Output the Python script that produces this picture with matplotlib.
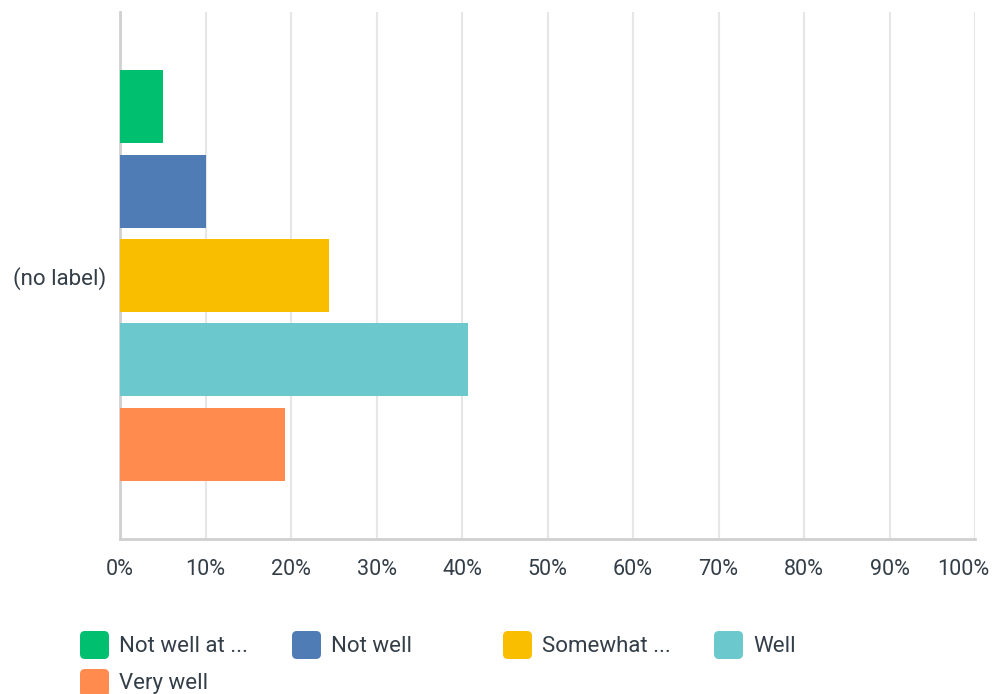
import matplotlib.pyplot as plt
import matplotlib.transforms as mtransforms
from matplotlib.patches import FancyBboxPatch

plt.rcParams['font.family'] = ['Roboto', 'DejaVu Sans']

categories = ["Not well at ...", "Not well", "Somewhat ...", "Well", "Very well"]
values = [5.0, 10.1, 24.4, 40.7, 19.3]   # percent of responses
colors = ["#00BF6F", "#507CB6", "#F9BE00", "#6BC8CD", "#FF8B4F"]
xticks = list(range(0, 101, 10))
row_label = "(no label)"

text_color = "#333E48"
W, H = 994, 694

fig = plt.figure(figsize=(W / 100, H / 100), dpi=100)
ax = fig.add_axes([120 / W, 1 - 539 / H, 855 / W, 527 / H])

# bars stacked top to bottom in one group
n = len(values)
pos = [1.125 + i for i in range(n)]
ax.barh(pos, values, height=0.866, color=colors, zorder=3)
ax.set_ylim(n + 1.25, 0)
ax.set_xlim(0, 100)

ax.set_yticks([(n + 1.25) / 2])
ax.set_yticklabels([row_label], fontsize=16, color=text_color)
ax.set_xticks(xticks)
ax.set_xticklabels([f"{t}%" for t in xticks], fontsize=15.5, color=text_color)
ax.tick_params(axis="x", length=0, pad=14.5)
ax.tick_params(axis="y", length=0, pad=10)

# keep the last tick label inside the figure
last = ax.get_xticklabels()[-1]
last.set_transform(last.get_transform() +
                   mtransforms.ScaledTranslation(-0.12, 0, fig.dpi_scale_trans))

ax.grid(axis="x", color="#E6E6E6", linewidth=1.5, zorder=0)
for side in ["top", "right"]:
    ax.spines[side].set_visible(False)
for side in ["left", "bottom"]:
    ax.spines[side].set_color("#D0D0D0")
    ax.spines[side].set_linewidth(2)

# legend drawn as rounded swatches in two rows
lx = [80, 292, 503, 714, 80]
ly = [645, 645, 645, 645, 683]
for name, c, x, y in zip(categories, colors, lx, ly):
    box = FancyBboxPatch((x / W, 1 - (y + 14) / H), 29 / W, 28 / H,
                         boxstyle="round,pad=0,rounding_size=0.005",
                         transform=fig.transFigure, facecolor=c,
                         edgecolor="none", mutation_aspect=W / H)
    fig.patches.append(box)
    fig.text((x + 39) / W, 1 - (y + 1) / H, name, fontsize=16, color=text_color,
             va="center", ha="left")

fig.savefig("out.png", dpi=100)
